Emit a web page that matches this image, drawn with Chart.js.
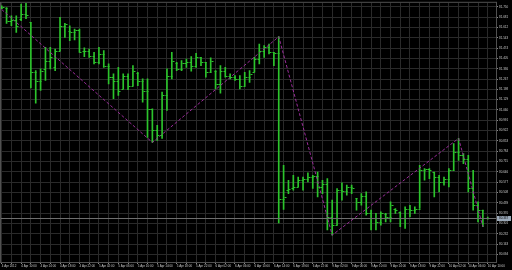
<!DOCTYPE html>
<html><head><meta charset="utf-8">
<script src="https://cdn.jsdelivr.net/npm/chart.js@4/dist/chart.umd.min.js"></script>
<style>html,body{margin:0;padding:0;background:#000;overflow:hidden}canvas{display:block}</style>
</head><body>
<canvas id="c" width="512" height="270"></canvas>
<script>
// time labels (one every 4 hourly bars)
const timeLabels = ["4 Apr 2012","4 Apr 10:00","4 Apr 14:00","4 Apr 18:00","4 Apr 22:00","5 Apr 02:00","5 Apr 06:00","5 Apr 10:00","5 Apr 14:00","5 Apr 18:00","5 Apr 22:00","6 Apr 02:00","6 Apr 06:00","6 Apr 10:00","6 Apr 14:00","6 Apr 18:00","6 Apr 22:00","9 Apr 02:00","9 Apr 06:00","9 Apr 10:00","9 Apr 14:00","9 Apr 18:00","9 Apr 22:00","10 Apr 02:00","10 Apr 06:00","10 Apr 10:00"];
const opens  = [81.743,81.743,81.657,81.663,81.670,81.703,81.645,81.312,81.257,81.337,81.390,81.350,81.457,81.623,81.590,81.579,81.595,81.452,81.457,81.423,81.379,81.435,81.357,81.279,81.257,81.203,81.290,81.223,81.310,81.257,81.190,81.068,80.923,80.890,81.157,81.290,81.377,81.337,81.377,81.379,81.357,81.412,81.379,81.312,81.323,81.235,81.323,81.290,81.279,81.268,81.223,81.279,81.312,81.401,81.457,81.479,81.445,81.443,80.463,80.523,80.535,80.545,80.590,80.601,80.612,80.617,80.545,80.568,80.345,80.290,80.523,80.517,80.545,80.468,80.445,80.483,80.368,80.335,80.312,80.363,80.345,80.397,80.377,80.337,80.401,80.390,80.401,80.657,80.668,80.643,80.612,80.577,80.597,80.657,80.777,80.757,80.735,80.537,80.423,80.390,80.335];
const highs  = [81.757,81.745,81.690,81.690,81.768,81.773,81.645,81.323,81.335,81.479,81.479,81.468,81.679,81.639,81.623,81.601,81.601,81.475,81.468,81.445,81.479,81.457,81.368,81.301,81.345,81.301,81.301,81.357,81.312,81.268,81.268,81.068,80.957,81.179,81.335,81.445,81.379,81.390,81.401,81.417,81.439,81.412,81.379,81.408,81.323,81.357,81.345,81.301,81.290,81.290,81.312,81.323,81.412,81.501,81.490,81.501,81.445,81.550,80.690,80.590,80.623,80.612,80.612,80.639,80.623,80.645,80.590,80.601,80.457,80.535,80.572,80.557,80.557,80.468,80.501,80.512,80.390,80.368,80.379,80.368,80.445,80.401,80.379,80.412,80.423,80.412,80.690,80.668,80.668,80.645,80.623,80.612,80.668,80.835,80.870,80.768,80.757,80.657,80.445,80.390,80.343];
const lows   = [81.737,81.639,81.623,81.579,81.657,81.670,81.208,81.105,81.190,81.257,81.335,81.323,81.457,81.545,81.523,81.528,81.445,81.417,81.412,81.368,81.368,81.345,81.235,81.135,81.157,81.201,81.195,81.223,81.223,81.112,80.877,80.843,80.857,80.870,81.057,81.268,81.323,81.323,81.345,81.319,81.345,81.357,81.279,81.312,81.201,81.172,81.279,81.268,81.257,81.201,81.223,81.245,81.312,81.368,81.412,81.435,81.357,80.305,80.395,80.501,80.523,80.545,80.523,80.579,80.535,80.479,80.501,80.257,80.223,80.290,80.457,80.490,80.501,80.390,80.423,80.357,80.257,80.257,80.290,80.312,80.312,80.368,80.279,80.268,80.345,80.368,80.401,80.590,80.601,80.479,80.512,80.557,80.545,80.657,80.723,80.701,80.512,80.390,80.312,80.279,80.330];
const closes = [81.747,81.652,81.663,81.623,81.703,81.697,81.312,81.257,81.323,81.390,81.412,81.457,81.623,81.635,81.579,81.595,81.445,81.457,81.423,81.379,81.435,81.357,81.279,81.257,81.190,81.290,81.223,81.323,81.257,81.190,81.068,80.923,80.890,81.157,81.290,81.390,81.335,81.377,81.379,81.357,81.412,81.379,81.312,81.390,81.235,81.323,81.290,81.279,81.268,81.223,81.279,81.301,81.401,81.457,81.479,81.445,81.443,80.463,80.479,80.530,80.545,80.590,80.601,80.612,80.617,80.545,80.568,80.345,80.290,80.523,80.517,80.545,80.535,80.445,80.483,80.368,80.335,80.312,80.372,80.345,80.423,80.390,80.337,80.401,80.390,80.401,80.657,80.668,80.657,80.612,80.577,80.597,80.657,80.777,80.757,80.735,80.537,80.423,80.390,80.335,80.337];
// zigzag vertices (bar index, price)
const zigzagIdx = [0,31,57,68,94,99];
const zigzagVal = [81.732,80.843,81.550,80.223,80.870,80.279];
// right-hand price scale labels
const priceTicks = [81.750,81.681,81.612,81.543,81.474,81.405,81.336,81.267,81.198,81.129,81.060,80.991,80.922,80.853,80.784,80.715,80.646,80.577,80.508,80.439,80.370,80.301,80.232,80.163,80.094];
const currentPrice = 80.337;

const GREEN = '#2cc42c';
const gridIdx = [];
for (let i = 0; i <= 100; i += 2) gridIdx.push(i);

const ohlcPlugin = {
  id: 'ohlc',
  beforeDraw(chart) {
    const ctx = chart.ctx;
    ctx.save(); ctx.fillStyle = '#000'; ctx.fillRect(0, 0, chart.width, chart.height); ctx.restore();
  },
  afterDatasetsDraw(chart) {
    const ctx = chart.ctx, xs = chart.scales.x, ys = chart.scales.y;
    ctx.save();
    ctx.strokeStyle = GREEN; ctx.lineWidth = 1;
    for (let i = 0; i < opens.length; i++) {
      const x = Math.round(xs.getPixelForValue(i)) + 0.5;
      const yo = Math.round(ys.getPixelForValue(opens[i])) + 0.5;
      const yc = Math.round(ys.getPixelForValue(closes[i])) + 0.5;
      ctx.beginPath();
      ctx.moveTo(x - 2, yo); ctx.lineTo(x, yo);
      ctx.moveTo(x, yc); ctx.lineTo(x + 2, yc);
      ctx.stroke();
    }
    ctx.restore();
  },
  afterDraw(chart) {
    const ctx = chart.ctx, ys = chart.scales.y, a = chart.chartArea;
    ctx.save();
    const y = Math.round(ys.getPixelForValue(currentPrice)) + 0.5;
    ctx.strokeStyle = '#6e6e6e'; ctx.lineWidth = 1;
    ctx.beginPath(); ctx.moveTo(a.left, y); ctx.lineTo(a.right, y); ctx.stroke();
    ctx.fillStyle = '#9aa8b8';
    ctx.fillRect(a.right + 1, y - 2.5, 14, 5);
    ctx.fillStyle = '#000';
    ctx.font = '3px "Liberation Sans"';
    ctx.textBaseline = 'middle'; ctx.textAlign = 'left';
    ctx.fillText(currentPrice.toFixed(3), a.right + 3, y);
    ctx.strokeStyle = '#505050';
    ctx.strokeRect(a.left + 0.5, a.top - 0.5, a.right - a.left, a.bottom - a.top + 1);
    ctx.restore();
  }
};

new Chart(document.getElementById('c'), {
  type: 'bar',
  data: {
    datasets: [{
      type: 'line',
      data: zigzagIdx.map((x, k) => ({x: x, y: zigzagVal[k]})),
      borderColor: '#9a2c9a', borderWidth: 1, borderDash: [3, 2],
      pointRadius: 0, fill: false, tension: 0, order: 0
    }, {
      type: 'bar',
      data: highs.map((h, i) => ({x: i, y: [lows[i], h]})),
      backgroundColor: GREEN, borderWidth: 0,
      barThickness: 1, grouped: false, order: 1
    }]
  },
  options: {
    responsive: false, animation: false, devicePixelRatio: 1,
    layout: {padding: {top: 2, left: 0, right: 0, bottom: 0}},
    plugins: {legend: {display: false}, tooltip: {enabled: false}},
    scales: {
      x: {
        type: 'linear', min: -0.35, max: 101.7, offset: false,
        afterBuildTicks: s => { s.ticks = gridIdx.map(v => ({value: v})); },
        afterFit: s => { s.height = 8; },
        grid: {color: '#2a2a2a', lineWidth: 1, offset: false, tickLength: 2, tickColor: '#8a8a8a'},
        border: {color: '#8a8a8a'},
        ticks: {
          autoSkip: false, maxRotation: 0, minRotation: 0, align: 'start', padding: 0,
          color: '#c8c8c8', font: {size: 3, family: 'Liberation Sans'},
          callback: v => (v % 4 === 0 ? timeLabels[v / 4] : '')
        }
      },
      y: {
        position: 'right', min: 80.0433, max: 81.7767,
        afterBuildTicks: s => { s.ticks = priceTicks.map(v => ({value: v})); },
        afterFit: s => { s.width = 16; },
        grid: {color: '#2a2a2a', lineWidth: 1, tickLength: 2, tickColor: '#8a8a8a'},
        border: {color: '#8a8a8a'},
        ticks: {
          padding: 1, color: '#c8c8c8', font: {size: 3, family: 'Liberation Sans'},
          callback: v => v.toFixed(3)
        }
      }
    }
  },
  plugins: [ohlcPlugin]
});
</script>
</body></html>
